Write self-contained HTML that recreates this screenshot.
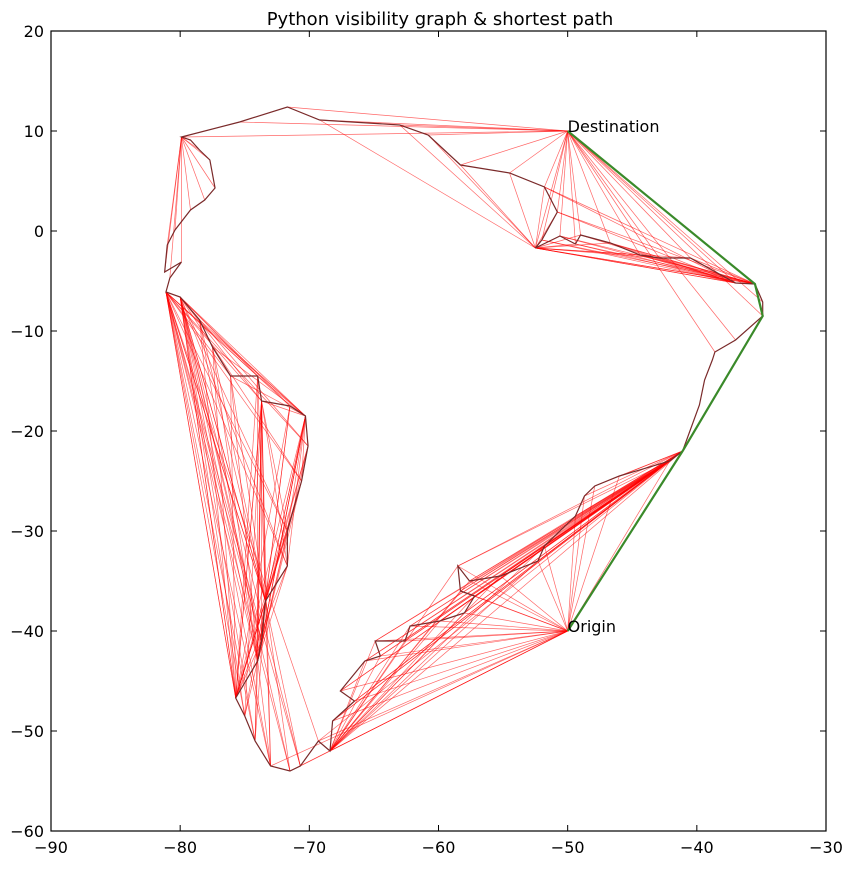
<!DOCTYPE html>
<html><head><meta charset="utf-8"><style>
body{margin:0;background:#fff;}
svg text{font-family:"DejaVu Sans","Liberation Sans",sans-serif;}
</style></head><body>
<svg id="chart" width="853" height="865" xmlns="http://www.w3.org/2000/svg">
<rect width="853" height="865" fill="#fff"/>
<text x="440" y="25" text-anchor="middle" font-size="18">Python visibility graph &amp; shortest path</text>
<g id="edges"></g>
<g id="coast"></g>
<g id="path"></g>
<g id="labels"></g>
<g id="axes"></g>
</svg>
<script>
const coastLon=[-79.9,-75.4,-71.7,-69.2,-63.0,-60.8,-58.3,-54.5,-51.8,-50.8,-52.0,-52.5,-50.6,-49.4,-49.0,-46.7,-44.4,-42.9,-40.5,-37.0,-35.5,-34.9,-34.9,-37.0,-38.6,-38.8,-39.4,-39.8,-41.1,-42.1,-46.0,-47.9,-48.7,-49.4,-51.8,-52.3,-55.2,-57.6,-58.5,-58.3,-57.2,-58.0,-59.9,-62.2,-62.6,-64.9,-64.5,-65.7,-67.6,-66.5,-68.2,-68.4,-69.3,-70.7,-71.5,-73.0,-74.2,-75.0,-75.7,-74.0,-73.7,-73.4,-71.7,-71.7,-70.6,-70.1,-70.3,-71.5,-73.7,-74.0,-76.1,-77.5,-78.5,-80.0,-81.1,-80.8,-79.9,-81.2,-81.0,-80.4,-79.2,-78.1,-77.3,-77.7,-78.5,-79.2];
const coastLat=[9.4,10.9,12.4,11.1,10.6,9.6,6.6,5.8,4.4,1.9,-0.9,-1.7,-0.5,-1.3,-0.4,-1.2,-2.4,-2.7,-2.7,-5.2,-5.3,-7.1,-8.5,-10.9,-12.1,-12.9,-14.9,-17.4,-22.0,-23.0,-24.5,-25.5,-26.5,-28.5,-31.5,-33.0,-34.5,-35.0,-33.5,-36.0,-36.5,-38.2,-39.0,-39.5,-41.0,-41.0,-42.5,-43.0,-46.0,-47.0,-49.0,-52.0,-51.0,-53.5,-54.0,-53.5,-51.0,-48.5,-46.7,-43.0,-41.0,-37.0,-33.5,-30.0,-25.0,-21.5,-18.5,-17.5,-17.0,-14.5,-14.5,-11.6,-8.9,-6.6,-6.1,-4.7,-3.1,-4.1,-1.4,0.1,2.1,3.1,4.3,7.1,8.1,9.1];
const hubLon=[-50,-50,-81.1,-41.1,-35.5,-79.9,-73.7,-68.4,-75.7,-74.0,-42.1,-37.0,-70.3,-80.0,-52.5,-73.4];
const hubLat=[10,-40,-6.1,-22.0,-5.3,9.4,-17.0,-52.0,-46.7,-43.0,-23.0,-5.2,-18.5,-6.6,-1.7,-37.0];
const hubFrom=[0,28,52,30,8,75,55,34,59,55,33,8,59,53,3,53];
const hubTo=[24,55,70,52,20,85,63,47,74,72,50,18,72,69,20,74];
const pathLon=[-50,-41.1,-34.9,-35.5,-50];
const pathLat=[-40,-22.0,-8.5,-5.3,10];
const xTicks=[-90,-80,-70,-60,-50,-40,-30];
const yTicks=[20,10,0,-10,-20,-30,-40,-50,-60];
const labelText=["Destination","Origin"];
const labelLon=[-50,-50];
const labelLat=[10,-40];

const X0=51,X1=826,Y0=31,Y1=831;
const sx=v=>X0+(v+90)/60*(X1-X0);
const sy=v=>Y0+(20-v)/80*(Y1-Y0);
const NS="http://www.w3.org/2000/svg";
function mk(t,a,p){const e=document.createElementNS(NS,t);for(const k in a)e.setAttribute(k,a[k]);p.appendChild(e);return e;}
const eg=document.getElementById('edges');
for(let h=0;h<hubLon.length;h++){
  for(let i=hubFrom[h];i<=hubTo[h];i++){
    const l=mk('line',{x1:sx(hubLon[h]),y1:sy(hubLat[h]),x2:sx(coastLon[i]),y2:sy(coastLat[i]),stroke:'#ff0000','stroke-width':0.7,'stroke-opacity':0.6},eg);
    
    
  }
}
const cg=document.getElementById('coast');
let pts=coastLon.map((v,i)=>sx(v)+','+sy(coastLat[i])).join(' ');
const poly=mk('polygon',{points:pts,fill:'none',stroke:'#7a2a2a','stroke-width':1.2},cg);


const pg=document.getElementById('path');
const pl=mk('polyline',{points:pathLon.map((v,i)=>sx(v)+','+sy(pathLat[i])).join(' '),fill:'none',stroke:'#3a8a2a','stroke-width':2.2},pg);


const lg=document.getElementById('labels');
for(let i=0;i<labelText.length;i++){
  const t=mk('text',{x:sx(labelLon[i]),y:sy(labelLat[i])+1,'font-size':16},lg);
  t.textContent=labelText[i];
  
  
}
const ag=document.getElementById('axes');
const fr=mk('rect',{x:X0,y:Y0,width:X1-X0,height:Y1-Y0,fill:'none',stroke:'#000','stroke-width':1.2},ag);


xTicks.forEach(v=>{
  const x=sx(v);
  mk('line',{x1:x,y1:Y1,x2:x,y2:Y1-6,stroke:'#000'},ag);
  mk('line',{x1:x,y1:Y0,x2:x,y2:Y0+6,stroke:'#000'},ag);
  const t=mk('text',{x:x,y:Y1+22,'font-size':16,'text-anchor':'middle'},ag);
  t.textContent=String(v).replace('-','\u2212');
  
  
});
yTicks.forEach(v=>{
  const y=sy(v);
  mk('line',{x1:X0,y1:y,x2:X0+6,y2:y,stroke:'#000'},ag);
  mk('line',{x1:X1,y1:y,x2:X1-6,y2:y,stroke:'#000'},ag);
  const t=mk('text',{x:X0-7,y:y+6,'font-size':16,'text-anchor':'end'},ag);
  t.textContent=String(v).replace('-','\u2212');
  
  
});
</script>
</body></html>
